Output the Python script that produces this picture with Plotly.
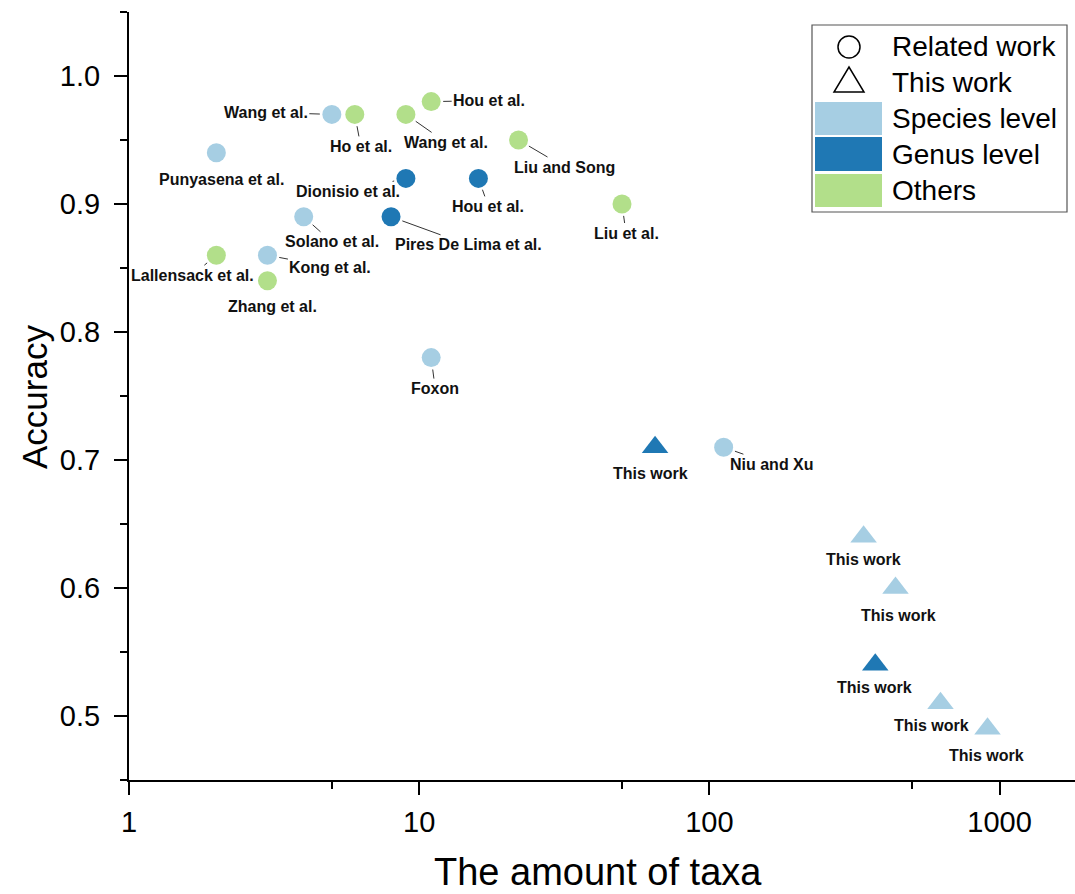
import math
import plotly.graph_objects as go

# ---------------- data ----------------
names = ["Punyasena et al.", "Wang et al.", "Ho et al.", "Wang et al.", "Hou et al.",
         "Liu and Song", "Dionisio et al.", "Hou et al.", "Liu et al.", "Solano et al.",
         "Pires De Lima et al.", "Lallensack et al.", "Kong et al.", "Zhang et al.", "Foxon",
         "Niu and Xu", "This work", "This work", "This work", "This work", "This work", "This work"]
taxa = [2, 5, 6, 9, 11, 22, 9, 16, 50, 4, 8, 2, 3, 3, 11, 112, 65, 340, 438, 373, 626, 909]
accuracy = [0.94, 0.97, 0.97, 0.97, 0.98, 0.95, 0.92, 0.92, 0.90, 0.89, 0.89, 0.86, 0.86, 0.84,
            0.78, 0.71, 0.71, 0.64, 0.60, 0.54, 0.51, 0.49]
level = ["Species", "Species", "Others", "Others", "Others", "Others", "Genus", "Genus", "Others",
         "Species", "Genus", "Others", "Species", "Others", "Species", "Species",
         "Genus", "Species", "Species", "Genus", "Species", "Species"]
work = ["Related"] * 16 + ["This"] * 6

y_ticks = [0.5, 0.6, 0.7, 0.8, 0.9, 1.0]
x_ticks = [1, 10, 100, 1000]
x_minor = [5, 50, 500]
legend_items = ["Related work", "This work", "Species level", "Genus level", "Others"]

# ---------------- styles ----------------
colors = {"Species": "#a6cee3", "Genus": "#1f78b4", "Others": "#b2df8a"}
symbols = {"Related": "circle", "This": "triangle-up"}
msize = {"Related": 19, "This": 23}
# label offsets in pixels (ax, ay) and whether a leader line is drawn
label_pos = [(5, 27, False), (-66, -2, True), (6, 32, True), (40, 28, True), (58, -1, True),
             (46, 27, True), (-58, 13, True), (10, 28, True), (4, 29, True), (28, 25, True),
             (77, 28, True), (-24, 20, True), (63, 12, True), (5, 26, False), (4, 31, True),
             (48, 17, True), (-5, 26, False), (0, 23, False), (3, 27, False), (-1, 23, False),
             (-9, 22, False), (-1, 27, False)]

FONT = "Liberation Sans, Arial, Helvetica, sans-serif"

fig = go.Figure()
fig.add_trace(go.Scatter(
    x=taxa, y=accuracy, mode="markers",
    marker=dict(color=[colors[l] for l in level],
                symbol=[symbols[w] for w in work],
                size=[msize[w] for w in work],
                opacity=1,
                line=dict(width=0)),
    showlegend=False, hoverinfo="skip"))

annotations = []
for i, nm in enumerate(names):
    ax, ay, arrow = label_pos[i]
    base = dict(x=math.log10(taxa[i]), y=accuracy[i], xref="x", yref="y", text=nm,
                font=dict(family=FONT, size=16, color="#111111", weight="bold"))
    if arrow:
        base.update(showarrow=True, ax=ax, ay=ay, arrowhead=0, arrowwidth=1,
                    arrowcolor="#333333", standoff=12)
    else:
        base.update(showarrow=False, xshift=ax, yshift=-ay)
    annotations.append(base)

# plot area geometry (pixels)
L, R, T, B = 129, 1075, 12, 780
W, H = R - L, B - T


def px(xp):
    return (xp - L) / W


def py(yp):
    return (B - yp) / H


# axis titles
annotations.append(dict(x=px(35), y=py(397), xref="paper", yref="paper", text="Accuracy",
                        textangle=-90, showarrow=False, xanchor="center", yanchor="middle",
                        font=dict(family=FONT, size=35, color="black")))
annotations.append(dict(x=px(598), y=py(872), xref="paper", yref="paper", text="The amount of taxa",
                        showarrow=False, xanchor="center", yanchor="middle",
                        font=dict(family=FONT, size=38, color="black")))

# legend (drawn manually)
shapes = []
shapes.append(dict(type="rect", xref="paper", yref="paper", x0=px(812), x1=px(1067),
                   y0=py(212), y1=py(25), line=dict(color="#555555", width=1.2),
                   fillcolor="white", layer="below"))
shapes.append(dict(type="circle", xref="paper", yref="paper", xsizemode="pixel", ysizemode="pixel",
                   xanchor=px(849), yanchor=py(47), x0=-11, x1=11, y0=-11, y1=11,
                   line=dict(color="black", width=1.5)))
shapes.append(dict(type="path", xref="paper", yref="paper", xsizemode="pixel", ysizemode="pixel",
                   xanchor=px(849), yanchor=py(80), path="M -15,-12 L 15,-12 L 0,13 Z",
                   line=dict(color="black", width=1.5)))
rect_rows = [(102, 135, colors["Species"]), (137, 171, colors["Genus"]), (174, 207, colors["Others"])]
for y0, y1, c in rect_rows:
    shapes.append(dict(type="rect", xref="paper", yref="paper", x0=px(815), x1=px(882),
                       y0=py(y1), y1=py(y0), fillcolor=c, line=dict(width=0)))
text_y = [47, 82, 118, 155, 190]
for t, yy in zip(legend_items, text_y):
    annotations.append(dict(x=px(890), y=py(yy), xref="paper", yref="paper", text=t,
                            showarrow=False, xanchor="left", yanchor="middle",
                            font=dict(family=FONT, size=28, color="black")))

fig.update_layout(
    width=1075, height=894,
    margin=dict(l=L, r=1075 - R, t=T, b=894 - B, autoexpand=False),
    paper_bgcolor="white", plot_bgcolor="white",
    showlegend=False,
    annotations=annotations, shapes=shapes,
    xaxis=dict(type="log", range=[0, math.log10(1820)], tickvals=x_ticks,
               ticktext=[str(v) for v in x_ticks],
               showgrid=False, zeroline=False, showline=True, linecolor="black", linewidth=2,
               ticks="outside", ticklen=13, tickwidth=2, tickcolor="black",
               minor=dict(tickvals=x_minor, ticks="outside", ticklen=7, tickwidth=2, tickcolor="black",
                          showgrid=False),
               tickfont=dict(family=FONT, size=29, color="black"), ticklabelstandoff=2),
    yaxis=dict(range=[0.45, 1.05], tickvals=y_ticks, ticktext=[f"{v:.1f}" for v in y_ticks],
               showgrid=False, zeroline=False, showline=True, linecolor="black", linewidth=2,
               ticks="outside", ticklen=13, tickwidth=2, tickcolor="black",
               minor=dict(dtick=0.05, tick0=0.45, ticks="outside", ticklen=7, tickwidth=2,
                          tickcolor="black", showgrid=False),
               tickfont=dict(family=FONT, size=29, color="black"), ticklabelstandoff=8),
)

fig.write_html("out.html")
